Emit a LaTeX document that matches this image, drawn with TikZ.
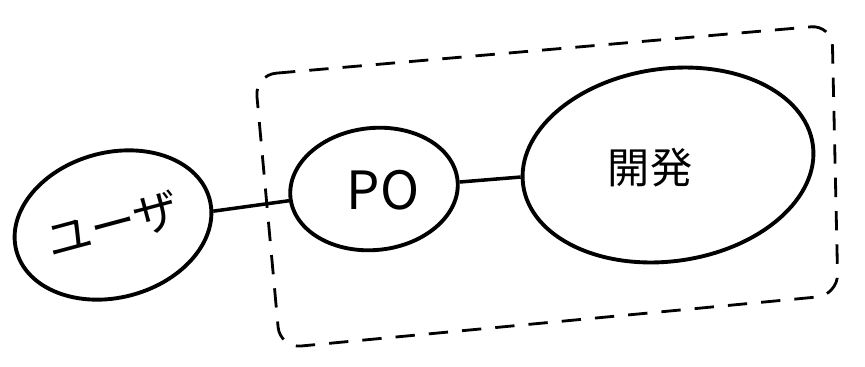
\documentclass[tikz,border=0pt]{standalone}
\usepackage{fontspec}
\newfontfamily\cjk{Noto Sans CJK JP}
\usetikzlibrary{shapes.geometric}
\begin{document}
\begin{tikzpicture}[x=0.02cm,y=-0.02cm,
  bubble/.style={draw, ellipse, line width=2.2pt, inner sep=0pt},
  link/.style={line width=2pt},
  frame/.style={line width=1.6pt, dash pattern=on 11pt off 8pt, rounded corners=12pt}]
\useasboundingbox (0,0) rectangle (865,366);
\node[bubble, minimum width=4.0cm, minimum height=2.9cm, rotate=15,
      font=\cjk\fontsize{26}{28}\selectfont] (user) at (113,225) {ユーザ};
\node[bubble, minimum width=3.36cm, minimum height=2.44cm, rotate=6] (po) at (374,189) {};
\node[font=\cjk\fontsize{30}{32}\selectfont] (potext) at (383,190) {PO};
\node[bubble, minimum width=5.85cm, minimum height=3.85cm, rotate=8] (dev) at (668,165) {};
\node[font=\cjk\fontsize{24}{26}\selectfont] (devtext) at (650,168) {開発};
\draw[link] (user) -- (po);
\draw[link] (po) -- (dev);
\draw[frame] (255,75) -- (832,25) -- (838,295) -- (280,348) -- cycle;
\end{tikzpicture}
\end{document}
